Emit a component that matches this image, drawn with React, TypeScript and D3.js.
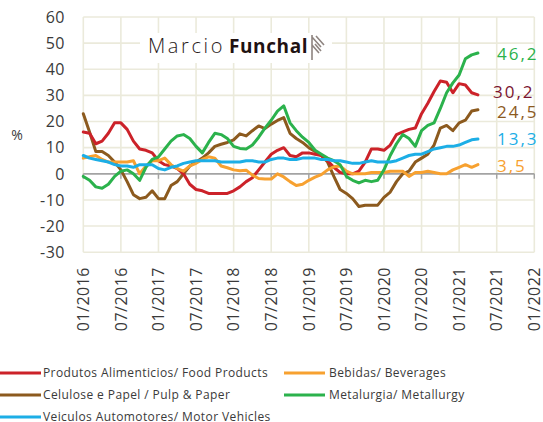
import React, { useEffect, useRef } from 'react';
import * as d3 from 'd3';

// tick labels (every 6 months) and y ticks
const tickLabels = ['01/2016', '07/2016', '01/2017', '07/2017', '01/2018', '07/2018', '01/2019', '07/2019', '01/2020', '07/2020', '01/2021', '07/2021', '01/2022'];
const yTicks = [60, 50, 40, 30, 20, 10, 0, -10, -20, -30];

// monthly values, 01/2016 .. 04/2021 (%)
const food = [16, 15.5, 11.5, 12.5, 15.5, 19.5, 19.5, 17, 12.5, 9.5, 9, 8, 5, 3.5, 3, 2, 0, -4, -6, -6.5, -7.5, -7.5, -7.5, -7.5, -6.5, -5, -3, -1.5, 1.5, 4.5, 7.5, 9, 10, 7, 6.5, 8, 8, 7.5, 7, 5, 2.5, 0.5, 0, 0, 1, 4.5, 9.5, 9.5, 9, 11, 15, 16, 17, 17.5, 23, 27, 31.5, 35.5, 35, 31, 34.5, 34, 31, 30.2];
const beverages = [6, 6.5, 7, 5.5, 4.5, 4.5, 4.5, 4.5, 5, 0, 3, 5, 5, 6, 3.5, 2, 1, 3, 4, 5.5, 6.5, 6, 3, 2.3, 1.5, 1.2, 1.4, -0.5, -1.8, -2, -2, 0, -1.2, -3, -4.5, -4, -2.5, -1.3, -0.3, 1.5, 2.7, 3, 1, 0, 0, 0, 0.5, 0.5, 0.5, 1, 1, 1, -1, 0.5, 0.5, 1, 0.5, 0, 0, 1.5, 2.5, 3.5, 2.5, 3.5];
const pulp = [23, 16, 8.5, 8.5, 7, 4.5, 1.5, -3, -8, -9.5, -9, -6.5, -9.5, -9.5, -4.5, -3, 0, 3, 4.5, 6, 8, 10.5, 11.3, 12, 13, 15.3, 14.5, 16.5, 18.3, 17.3, 19, 20.4, 21.5, 15.5, 13.5, 12, 10, 8.5, 7, 4.5, -1, -6, -7.5, -9.5, -12.5, -12, -12, -12, -9, -7, -3, 0, 1, 4.5, 6, 7.5, 11, 17.5, 18.5, 16.5, 19.5, 20.5, 24, 24.5];
const metal = [-1, -2.5, -5, -5.5, -4, -1, 1, 1.5, 0, -2.5, 2.5, 5.5, 6.5, 9.5, 12.5, 14.5, 15, 13.5, 10.5, 8, 12, 15.5, 15, 13.5, 10.5, 9.7, 9.5, 11, 14, 17.5, 20.5, 24, 26, 19.5, 16.5, 14, 12, 9, 7.5, 6, 5, 3.5, -1, -2.5, -3.5, -2.5, -3, -2.5, 1.5, 7, 11.5, 15, 13.5, 10.5, 16.5, 18.5, 19.5, 25, 31, 34.8, 37.8, 44, 45.5, 46.2];
const vehicles = [7, 6, 5.5, 5, 4.5, 3.5, 3, 3, 2.5, 3.5, 3.5, 3.5, 2, 1.5, 2.5, 3, 4, 4.5, 5, 5, 5, 5, 4.5, 4.5, 4.5, 4.5, 5, 5, 4.5, 4.5, 5.5, 6, 6, 5.5, 5.5, 6, 6, 6, 5.5, 5.5, 5, 5, 4.5, 4, 4, 4.5, 5, 4.5, 4.5, 4.5, 5, 6, 7, 7.5, 7.5, 8.5, 9.5, 10, 10.5, 10.5, 11, 12, 13, 13.3];

const seriesLabels = ['Produtos Alimenticios/ Food Products', 'Bebidas/ Beverages', 'Celulose e Papel / Pulp & Paper', 'Metalurgia/ Metallurgy', 'Veiculos Automotores/ Motor Vehicles'];

const colors = ['#cc2229', '#f7a130', '#8c5a1e', '#2bb24c', '#1caee6'];
const labelColors = ['#7a1430', '#f7a130', '#8c5a1e', '#2bb24c', '#1caee6'];
// nudges so the end labels don't collide
const labelNudge = [[-4, -3], [0, 1.5], [0, 2.5], [0, 0.5], [0, 0]];

const FONT = '"Open Sans", sans-serif';

export default function App() {
  const ref = useRef<SVGSVGElement>(null);

  useEffect(() => {
    const svg = d3.select(ref.current);
    svg.selectAll('*').remove();

    const series = [food, beverages, pulp, metal, vehicles].map((values, i) => ({
      values, label: seriesLabels[i], color: colors[i], labelColor: labelColors[i], nudge: labelNudge[i]
    }));

    // plot area
    const left = 83.3, right = 534.3, top = 17, bottom = 252.2;
    const x = d3.scaleLinear().domain([0, 72]).range([left, right]);
    const y = d3.scaleLinear().domain([-30, 60]).range([bottom, top]);

    const grid = svg.append('g').attr('stroke', '#ebeadb').attr('stroke-width', 1.6);
    yTicks.forEach(t => {
      if (t === 0) return;
      grid.append('line').attr('x1', left).attr('x2', right).attr('y1', y(t)).attr('y2', y(t));
    });
    tickLabels.forEach((_, i) => {
      grid.append('line').attr('x1', x(i * 6)).attr('x2', x(i * 6)).attr('y1', top).attr('y2', bottom);
    });

    // zero axis with ticks
    svg.append('line')
      .attr('x1', left).attr('x2', right).attr('y1', y(0)).attr('y2', y(0))
      .attr('stroke', '#a3a3a3').attr('stroke-width', 1.8);
    tickLabels.forEach((_, i) => {
      svg.append('line')
        .attr('x1', x(i * 6)).attr('x2', x(i * 6)).attr('y1', y(0)).attr('y2', y(0) + 5)
        .attr('stroke', '#a3a3a3').attr('stroke-width', 1.4);
    });

    // y labels
    svg.append('g').selectAll('text').data(yTicks).join('text')
      .attr('x', 65).attr('y', d => y(d)).attr('dy', '0.36em')
      .attr('text-anchor', 'end')
      .attr('font-family', FONT).attr('font-size', 16).attr('fill', '#3a3a3a')
      .attr('letter-spacing', 0.5)
      .text(d => String(d));

    svg.append('text').attr('x', 17).attr('y', 135).attr('dy', '0.35em')
      .attr('text-anchor', 'middle')
      .attr('font-family', FONT).attr('font-size', 14).attr('fill', '#3a3a3a')
      .text('%');

    // x labels (rotated)
    svg.append('g').selectAll('text').data(tickLabels).join('text')
      .attr('transform', (d, i) => 'translate(' + x(i * 6) + ',267) rotate(-90)')
      .attr('dy', '0.36em')
      .attr('text-anchor', 'end')
      .attr('font-family', FONT).attr('font-size', 16).attr('fill', '#3a3a3a')
      .attr('letter-spacing', 0.5)
      .text(d => d);

    // logo
    const logo = svg.append('g');
    logo.append('rect').attr('x', 140).attr('y', 33).attr('width', 192).attr('height', 30).attr('fill', '#fff');
    logo.append('text').attr('x', 148).attr('y', 53)
      .attr('font-family', FONT).attr('font-size', 20).attr('font-weight', 300).attr('fill', '#2a1b1b')
      .attr('letter-spacing', 2.6)
      .text('Marcio');
    logo.append('text').attr('x', 229).attr('y', 53)
      .attr('font-family', FONT).attr('font-size', 19).attr('font-weight', 700).attr('fill', '#1f1212')
      .attr('letter-spacing', 0.6)
      .text('Funchal');
    logo.append('path')
      .attr('d', 'M312,35 L312,60 M312,37 L321,47 M316,36 L324,45 M312,45 L319,53 M315,44 L321,51')
      .attr('stroke', '#8e8480').attr('stroke-width', 1.6).attr('fill', 'none');

    // lines
    const lineGen = d3.line<number>()
      .x((d, i) => x(i))
      .y(d => y(d));

    const order = [2, 0, 1, 3, 4];
    order.forEach(k => {
      const s = series[k];
      svg.append('path')
        .attr('d', lineGen(s.values))
        .attr('fill', 'none')
        .attr('stroke', s.color)
        .attr('stroke-width', 3)
        .attr('stroke-linejoin', 'round')
        .attr('stroke-linecap', 'round');
    });

    // end labels
    const fmt = d3.format('.1f');
    series.forEach(s => {
      const last = s.values[s.values.length - 1];
      svg.append('text')
        .attr('x', 497 + s.nudge[0]).attr('y', y(last) + s.nudge[1]).attr('dy', '0.36em')
        .attr('font-family', FONT).attr('font-size', 17).attr('fill', s.labelColor)
        .attr('letter-spacing', 2)
        .text(fmt(last).replace('.', ','));
    });

    // legend
    const legendPos = [[0, 373], [284, 373], [0, 395], [284, 395], [0, 417]];
    series.forEach((s, i) => {
      const [lx, ly] = legendPos[i];
      svg.append('line')
        .attr('x1', lx).attr('x2', lx + 41).attr('y1', ly).attr('y2', ly)
        .attr('stroke', s.color).attr('stroke-width', 3);
      svg.append('text')
        .attr('x', lx + (lx === 0 ? 43 : 45)).attr('y', ly).attr('dy', '0.36em')
        .attr('font-family', FONT).attr('font-size', 12).attr('fill', '#3a3a3a')
        .attr('letter-spacing', 0.4)
        .text(s.label);
    });
  }, []);

  return (
    <svg ref={ref} width={543} height={422}
      style={{ position: 'absolute', left: 0, top: 0, background: '#fff' }} />
  );
}
